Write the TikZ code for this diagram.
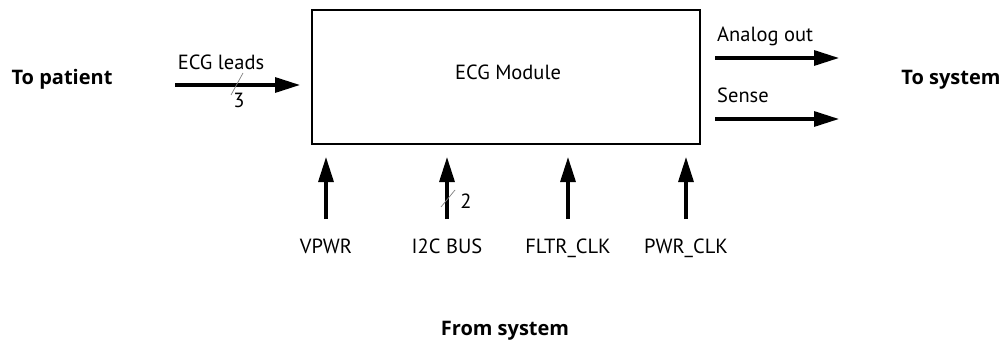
\documentclass[tikz,border=0pt]{standalone}
\usepackage{fontspec}
\setmainfont{PT Sans}
\newfontfamily\boldlbl{Open Sans}
\usetikzlibrary{arrows.meta}
\begin{document}
\begin{tikzpicture}[x=1pt,y=-1pt,
  sig/.style={line width=3.2pt,-{Triangle[length=25pt,width=15pt]}},
  lbl/.style={font=\fontsize{20.5}{22}\selectfont,inner sep=0pt,anchor=base},
  big/.style={font=\boldlbl\bfseries\fontsize{20}{22}\selectfont,inner sep=0pt,anchor=base},
  slashln/.style={line width=0.7pt,gray},
  modbox/.style={draw,line width=1.3pt,minimum width=388pt,minimum height=134pt,inner sep=0pt}]
\useasboundingbox (0,0) rectangle (1006,342);
\node[modbox] (mod) at (506,77) {};
\node[lbl] (modlbl) at (508,80) {ECG Module};
\node[big] (pat) at (62,85) {To patient};
\node[big] (sys) at (951,85) {To system};
\node[big] (from) at (505,335) {From system};
% input leads
\coordinate (lin) at (175,85);
\coordinate (lout) at (300,85);
\draw[sig] (lin) -- (lout);
\node[lbl] (leads) at (221,70) {ECG leads};
\coordinate (s1a) at (231,95);
\coordinate (s1b) at (243,73);
\draw[slashln] (s1a) -- (s1b);
\node[lbl] (n3) at (239,108) {3};
% outputs
\coordinate (a1) at (715,58);
\coordinate (a2) at (839,58);
\draw[sig] (a1) -- (a2);
\node[lbl,anchor=base west] (aout) at (717,42) {Analog out};
\coordinate (b1) at (715,119);
\coordinate (b2) at (839,119);
\draw[sig] (b1) -- (b2);
\node[lbl,anchor=base west] (sense) at (717,103) {Sense};
% bottom inputs
\foreach \x/\n/\t in {326/vpwr/VPWR,447/i2c/I2C BUS,568/fltr/FLTR\_CLK,686/pclk/PWR\_CLK}{
  \node[lbl] (\n) at (\x,253) {\t};
  \coordinate (\n-s) at (\x,219);
  \coordinate (\n-e) at (\x,157);
  \draw[sig] (\n-s) -- (\n-e);
}
\coordinate (s2a) at (441,207);
\coordinate (s2b) at (455,190);
\draw[slashln] (s2a) -- (s2b);
\node[lbl] (n2) at (466,208) {2};
\end{tikzpicture}
\end{document}
